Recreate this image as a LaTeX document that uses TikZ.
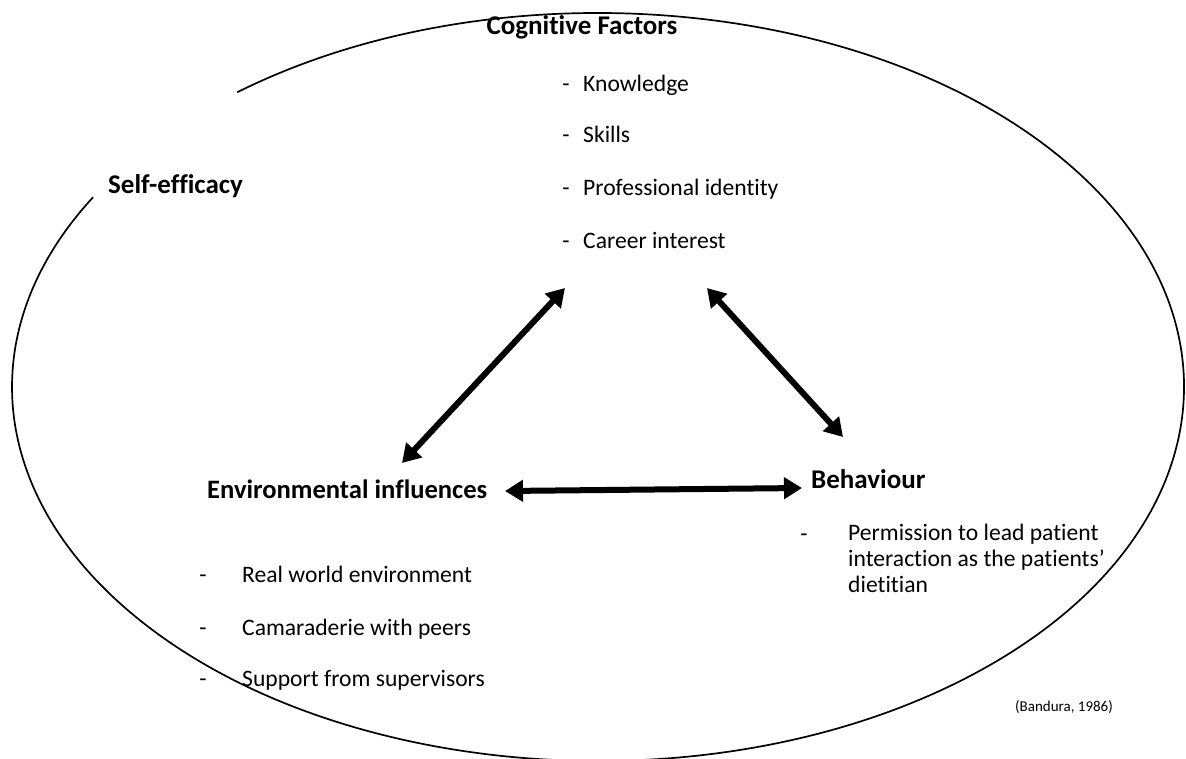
\documentclass[tikz,border=0pt]{standalone}
\usepackage{fontspec}
\setmainfont[Ligatures={NoCommon}]{Carlito}
\usetikzlibrary{arrows.meta}
\tikzset{
  head/.style={font=\fontsize{27}{31}\selectfont\bfseries, inner sep=0pt},
  item/.style={font=\fontsize{23.6}{27}\selectfont, inner sep=0pt, anchor=base west},
  dashmark/.style={font=\fontsize{23.6}{27}\selectfont, inner sep=0pt, anchor=base},
  bigarrow/.style={line width=6pt, {Triangle[length=18pt,width=21pt]}-{Triangle[length=18pt,width=21pt]}},
}
\begin{document}
\begin{tikzpicture}[x=1pt,y=-1pt]
\useasboundingbox (0,0) rectangle (1186,758);
\clip (0,0) rectangle (1186,758);
% outer ellipse (broken behind the Self-efficacy label)
\draw[line width=1.7pt] (598,387) ++(-128:586 and 374) arc[start angle=-128, end angle=210.5, x radius=586, y radius=374];

\node[head] (cog) at (582,27) {Cognitive Factors};
\node[head, anchor=west] (self) at (108,186) {Self-efficacy};
\node[head, anchor=west, font=\fontsize{26.6}{31}\selectfont\bfseries] (env) at (207,489) {Environmental influences};
\node[head, anchor=west] (beh) at (811,479) {Behaviour};

\foreach \t/\y [count=\i] in {Knowledge/83, Skills/134, Professional identity/187, Career interest/240}{
  \node[dashmark] (cd\i) at (566,\y+8) {-};
  \node[item] (ci\i) at (583,\y+8) {\t};
}
\foreach \t/\y [count=\i] in {Real world environment/574, Camaraderie with peers/627, Support from supervisors/678}{
  \node[dashmark] (ed\i) at (203,\y+8) {-};
  \node[item] (ei\i) at (242,\y+8) {\t};
}
\node[dashmark] (bd) at (804,541) {-};
\node[item, anchor=north west, align=left, font=\fontsize{23.6}{26}\selectfont] (bi) at (848,524) {Permission to lead patient\\interaction as the patients'\\dietitian};

\node[font=\fontsize{15}{18}\selectfont, inner sep=0pt] (ref) at (1064,707) {(Bandura, 1986)};

\coordinate (a1) at (402,463);
\coordinate (a2) at (565,288);
\coordinate (b1) at (707,288);
\coordinate (b2) at (843,437);
\coordinate (c1) at (505,491);
\coordinate (c2) at (802,488);
\draw[bigarrow] (a1) -- (a2);
\draw[bigarrow] (b1) -- (b2);
\draw[bigarrow] (c1) -- (c2);
\end{tikzpicture}
\end{document}
